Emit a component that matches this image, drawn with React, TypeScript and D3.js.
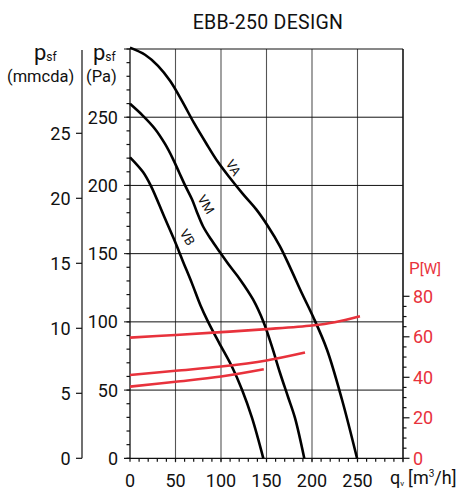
import React from "react";
import * as d3 from "d3";

const qTicks = [0, 50, 100, 150, 200, 250];
const paTicks = [0, 50, 100, 150, 200, 250];
const mmTicks = [0, 5, 10, 15, 20, 25];
const wTicks = [0, 20, 40, 60, 80];

// pressure curves [q m3/h, p Pa]
const VA: [number, number][] = [
  [0, 301], [16.5, 295.8], [30.8, 287.7], [44, 276.7], [57.1, 262], [70.3, 245.8],
  [83.5, 231.1], [96.7, 217.1], [109.9, 205.4], [124.2, 193.6], [138.5, 182.6],
  [151.6, 170.1], [164.8, 155.4], [176.9, 138.5], [189, 120.8], [201.1, 103.9],
  [216.5, 79.6], [233, 42.9], [249.5, 0],
];
const VM: [number, number][] = [
  [0, 259.8], [14.3, 251], [27.5, 241.4], [38.5, 230.4], [47.3, 219.3], [53.8, 209.8],
  [60.4, 200.2], [68.1, 189.9], [73.6, 180.4], [80.2, 170.1], [89, 160.5], [98.9, 151],
  [109.9, 140.7], [120.9, 131.1], [135.2, 116.4], [146.5, 100.2], [156, 81.8],
  [164.8, 62.7], [173.6, 45.1], [181.3, 29.6], [191.5, 0],
];
const VB: [number, number][] = [
  [0, 220.6], [14.3, 209.8], [23.1, 199.5], [37.4, 177.4], [48.4, 160.5], [58.2, 144.3],
  [68.1, 128.2], [77.5, 112], [85.7, 100.2], [97.8, 84.8], [112.1, 67.1], [123.1, 50.2],
  [134.1, 29.6], [146.5, 0],
];
// power curves [q m3/h, P W]
const PVA: [number, number][] = [
  [0, 59.6], [50, 60.9], [100, 62.3], [150, 63.8], [200, 65.6], [225, 67.2], [252.7, 70.2],
];
const PVM: [number, number][] = [
  [0, 41.1], [50, 43.2], [100, 45.3], [150, 48.3], [192.3, 52.2],
];
const PVB: [number, number][] = [
  [0, 35.4], [50, 37.8], [100, 40.4], [147, 44],
];

const curveLabels = [
  { text: "VA", q: 113.5, p: 213 },
  { text: "VM", q: 83.5, p: 186 },
  { text: "VB", q: 63, p: 162 },
];

const FONT = "Roboto, 'DejaVu Sans', sans-serif";
const RED = "#e8323c";

export default function App() {
  const x = d3.scaleLinear().domain([0, 300]).range([130, 403]);
  const y = d3.scaleLinear().domain([0, 300]).range([458.3, 49]);
  const yW = d3.scaleLinear().domain([0, 80]).range([458.3, 296.3]);
  const yMm = d3.scaleLinear().domain([0, 25]).range([458.3, 133.3]);

  const lineP = d3
    .line<[number, number]>()
    .x((d) => x(d[0]))
    .y((d) => y(d[1]))
    .curve(d3.curveCatmullRom.alpha(0.5));
  const lineW = d3
    .line<[number, number]>()
    .x((d) => x(d[0]))
    .y((d) => yW(d[1]))
    .curve(d3.curveCatmullRom.alpha(0.5));

  const minorQ = d3.range(0, 301, 10);
  const minorPa = d3.range(0, 301, 10);
  const minorW = d3.range(0, 81, 5);
  const gridQ = d3.range(50, 301, 50);
  const gridPa = d3.range(50, 301, 50);

  return (
    <svg
      width={460}
      height={490}
      style={{ position: "absolute", left: 0, top: 0, background: "#fff" }}
      fontFamily={FONT}
    >
      <rect x={0} y={0} width={460} height={490} fill="#fff" />
      {/* title */}
      <text x={268} y={29} fontSize={19.5} textAnchor="middle" fill="#111" letterSpacing={0.3}>
        EBB-250 DESIGN
      </text>

      {/* grid */}
      {gridQ.map((q) => (
        <line key={"gq" + q} x1={x(q)} x2={x(q)} y1={y(0) + 4} y2={y(300)} stroke="#555" strokeWidth={1.1} />
      ))}
      {gridPa.map((p) => (
        <line key={"gp" + p} x1={x(0) - 6} x2={x(300)} y1={y(p)} y2={y(p)} stroke="#111" strokeWidth={1} />
      ))}

      {/* axes lines */}
      <line x1={x(0)} x2={x(0)} y1={y(0)} y2={y(300)} stroke="#111" strokeWidth={1.3} />
      <line x1={x(0) - 6} x2={x(300)} y1={y(0)} y2={y(0)} stroke="#111" strokeWidth={1.3} />
      <line x1={x(300)} x2={x(300)} y1={y(0)} y2={y(300)} stroke="#111" strokeWidth={1.3} />

      {/* Pa minor ticks */}
      {minorPa.map((p) => (
        <line key={"mp" + p} x1={x(0) - 3.5} x2={x(0)} y1={y(p)} y2={y(p)} stroke="#111" strokeWidth={1.2} />
      ))}
      {paTicks.map((p) => (
        <text key={"tp" + p} x={118} y={y(p) + 6.5} fontSize={18} textAnchor="end" fill="#111">
          {p}
        </text>
      ))}

      {/* q minor ticks */}
      {minorQ.map((q) => (
        <line key={"mq" + q} x1={x(q)} x2={x(q)} y1={y(0)} y2={y(0) + 3.5} stroke="#111" strokeWidth={1.2} />
      ))}
      {qTicks.map((q) => (
        <text key={"tq" + q} x={x(q)} y={487} fontSize={18} textAnchor="middle" fill="#111">
          {q}
        </text>
      ))}

      {/* mmcda axis */}
      <line x1={82} x2={82} y1={50} y2={y(0)} stroke="#111" strokeWidth={1.2} />
      {mmTicks.map((m) => (
        <g key={"mm" + m}>
          <line x1={76} x2={82} y1={yMm(m)} y2={yMm(m)} stroke="#111" strokeWidth={1.2} />
          <text x={70.5} y={yMm(m) + 6.5} fontSize={18} textAnchor="end" fill="#111">
            {m}
          </text>
        </g>
      ))}

      {/* W axis */}
      {minorW.map((w) => (
        <line
          key={"mw" + w}
          x1={x(300)}
          x2={x(300) + (w % 20 === 0 ? 6.5 : 3.5)}
          y1={yW(w)}
          y2={yW(w)}
          stroke="#111"
          strokeWidth={1.2}
        />
      ))}
      {wTicks.map((w) => (
        <text key={"tw" + w} x={413} y={yW(w) + 6.5} fontSize={18} fill={RED}>
          {w}
        </text>
      ))}
      <text x={409} y={274} fontSize={17} fill={RED}>
        P<tspan fontSize={15}>[W]</tspan>
      </text>

      {/* axis titles */}
      <text x={34} y={60} fontSize={22} fill="#111">
        p<tspan fontSize={12} dy={1}>sf</tspan>
      </text>
      <text x={7} y={82} fontSize={16.5} fill="#111">
        (mmcda)
      </text>
      <text x={93} y={60} fontSize={22} fill="#111">
        p<tspan fontSize={12} dy={1}>sf</tspan>
      </text>
      <text x={86} y={82} fontSize={16.5} fill="#111">
        (Pa)
      </text>
      <text x={390} y={484} fontSize={18} fill="#111">
        q<tspan fontSize={8} dy={2}>v</tspan>
        <tspan dy={-2} dx={4}>[m</tspan>
        <tspan fontSize={10} dy={-7}>3</tspan>
        <tspan dy={7}>/h]</tspan>
      </text>

      {/* pressure curves */}
      {[VA, VM, VB].map((c, i) => (
        <path key={"c" + i} d={lineP(c) || ""} fill="none" stroke="#000" strokeWidth={2.6} />
      ))}
      {/* power curves */}
      {[PVA, PVM, PVB].map((c, i) => (
        <path key={"w" + i} d={lineW(c) || ""} fill="none" stroke={RED} strokeWidth={2.6} />
      ))}

      {curveLabels.map((l) => (
        <text
          key={l.text}
          transform={`translate(${x(l.q)},${y(l.p)}) rotate(58)`}
          fontSize={13}
          textAnchor="middle"
          dy={4.5}
          fill="#111"
        >
          {l.text}
        </text>
      ))}
    </svg>
  );
}
